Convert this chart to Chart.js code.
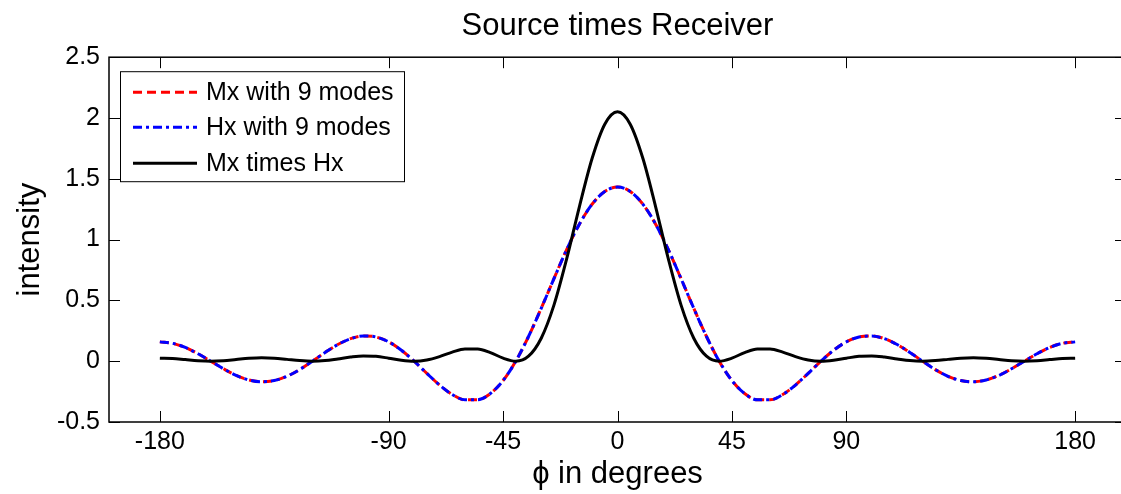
<!DOCTYPE html>
<html><head><meta charset="utf-8">
<script src="https://cdn.jsdelivr.net/npm/chart.js@4.4.1/dist/chart.umd.min.js"></script>
<style>
html,body{margin:0;padding:0;background:#fff;overflow:hidden;}
#wrap{width:1140px;height:494px;position:relative;}
</style></head><body>
<div id="wrap"><canvas id="c" width="1140" height="494"></canvas></div>
<script>
const angles = [-180,-175,-170,-165,-160,-155,-150,-145,-140,-135,-130,-125,-120,-115,-110,-105,-100,-95,-90,-85,-80,-75,-70,-65,-60,-55,-50,-45,-40,-35,-30,-25,-20,-15,-10,-5,0,
  5,10,15,20,25,30,35,40,45,50,55,60,65,70,75,80,85,90,95,100,105,110,115,120,125,130,135,140,145,150,155,160,165,170,175,180];
const mxValues = [0.159,0.147,0.113,0.061,0,-0.062,-0.117,-0.154,-0.169,-0.159,-0.124,-0.069,0,0.072,0.137,0.185,0.208,0.199,0.159,0.090,0,-0.100,-0.196,-0.274,-0.318,-0.318,-0.266,-0.159,0,0.203,0.435,0.679,0.917,1.127,1.291,1.396,1.432,
  1.396,1.291,1.127,0.917,0.679,0.435,0.203,0,-0.159,-0.266,-0.318,-0.318,-0.274,-0.196,-0.100,0,0.090,0.159,0.199,0.208,0.185,0.137,0.072,0,-0.069,-0.124,-0.159,-0.169,-0.154,-0.117,-0.062,0,0.061,0.113,0.147,0.159];
const hxValues = [0.159,0.147,0.113,0.061,0,-0.062,-0.117,-0.154,-0.169,-0.159,-0.124,-0.069,0,0.072,0.137,0.185,0.208,0.199,0.159,0.090,0,-0.100,-0.196,-0.274,-0.318,-0.318,-0.266,-0.159,0,0.203,0.435,0.679,0.917,1.127,1.291,1.396,1.432,
  1.396,1.291,1.127,0.917,0.679,0.435,0.203,0,-0.159,-0.266,-0.318,-0.318,-0.274,-0.196,-0.100,0,0.090,0.159,0.199,0.208,0.185,0.137,0.072,0,-0.069,-0.124,-0.159,-0.169,-0.154,-0.117,-0.062,0,0.061,0.113,0.147,0.159];
const productValues = [0.025,0.022,0.013,0.004,0,0.004,0.014,0.024,0.029,0.025,0.015,0.005,0,0.005,0.019,0.034,0.043,0.040,0.025,0.008,0,0.010,0.038,0.075,0.101,0.101,0.071,0.025,0,0.041,0.189,0.461,0.841,1.270,1.667,1.949,2.051,
  1.949,1.667,1.270,0.841,0.461,0.189,0.041,0,0.025,0.071,0.101,0.101,0.075,0.038,0.010,0,0.008,0.025,0.040,0.043,0.034,0.019,0.005,0,0.005,0.015,0.025,0.029,0.024,0.014,0.004,0,0.004,0.013,0.022,0.025];
const xTickValues = [-180,-90,-45,0,45,90,180];
const yTickValues = [-0.5,0,0.5,1,1.5,2,2.5];
const seriesLabels = ['Mx with 9 modes','Hx with 9 modes','Mx times Hx'];

const FAMILY = '"Liberation Sans", Arial, Helvetica, sans-serif';
const toPts = vals => angles.map((a,i)=>({x:a,y:vals[i]}));

const framePlugin = {
  id:'frame',
  afterDatasetsDraw(chart){
    const {ctx, chartArea:a, scales:{x,y}} = chart;
    ctx.save();
    ctx.strokeStyle = '#000';
    ctx.lineWidth = 1;
    ctx.setLineDash([]);
    ctx.beginPath();
    const TL = 11;
    xTickValues.forEach(v=>{
      const px = Math.round(x.getPixelForValue(v))+0.5;
      ctx.moveTo(px,a.bottom); ctx.lineTo(px,a.bottom-TL);
      ctx.moveTo(px,a.top); ctx.lineTo(px,a.top+TL);
    });
    yTickValues.forEach(v=>{
      const py = Math.round(y.getPixelForValue(v))+0.5;
      ctx.moveTo(a.left,py); ctx.lineTo(a.left+TL,py);
      ctx.moveTo(a.right,py); ctx.lineTo(a.right-TL,py);
    });
    ctx.stroke();
    ctx.lineWidth = 1.5;
    ctx.strokeRect(a.left, a.top, a.right-a.left, a.bottom-a.top);

    // legend box
    const bx = a.left+11, by = a.top+14, bw = 284, bh = 110;
    ctx.fillStyle = '#fff';
    ctx.fillRect(bx,by,bw,bh);
    ctx.lineWidth = 1;
    ctx.strokeRect(bx+0.5,by+0.5,bw,bh);
    const rows = [by+21, by+56, by+92];
    chart.data.datasets.forEach((ds,i)=>{
      const ry = rows[i];
      ctx.strokeStyle = ds.borderColor;
      ctx.lineWidth = ds.borderWidth;
      ctx.setLineDash(ds.borderDash || []);
      ctx.beginPath();
      ctx.moveTo(bx+13, ry); ctx.lineTo(bx+77, ry);
      ctx.stroke();
      ctx.setLineDash([]);
      ctx.fillStyle = '#000';
      ctx.font = '25px ' + FAMILY;
      ctx.textBaseline = 'middle';
      ctx.textAlign = 'left';
      ctx.fillText(ds.label, bx+86, ry+1);
    });
    ctx.restore();
  }
};

new Chart(document.getElementById('c'), {
  type:'line',
  data:{
    datasets:[
      {label:seriesLabels[0], data:toPts(mxValues), borderColor:'#ff0000', borderWidth:3, borderDash:[9,5], pointRadius:0, cubicInterpolationMode:'monotone', order:3, fill:false},
      {label:seriesLabels[1], data:toPts(hxValues), borderColor:'#0000ff', borderWidth:3, borderDash:[9,4,3,4], pointRadius:0, cubicInterpolationMode:'monotone', order:2, fill:false},
      {label:seriesLabels[2], data:toPts(productValues), borderColor:'#000000', borderWidth:3, pointRadius:0, cubicInterpolationMode:'monotone', order:1, fill:false}
    ]
  },
  options:{
    responsive:false,
    animation:false,
    devicePixelRatio:1,
    layout:{padding:{left:0,right:14,top:0,bottom:0}},
    plugins:{
      legend:{display:false},
      tooltip:{enabled:false},
      title:{display:true, fullSize:false, text:'Source times Receiver', color:'#000', font:{family:FAMILY, size:31, weight:'normal'}, padding:{top:8,bottom:12}}
    },
    scales:{
      x:{
        type:'linear', min:-200, max:200,
        afterBuildTicks:s=>{ s.ticks = xTickValues.map(v=>({value:v})); },
        afterFit:s=>{ s.height = 72; },
        grid:{display:false, drawTicks:false},
        border:{display:false},
        ticks:{color:'#000', font:{family:FAMILY, size:25}, padding:5, maxRotation:0, autoSkip:false, callback:v=>String(v)},
        title:{display:true, text:'ϕ in degrees', color:'#000', font:{family:FAMILY, size:31}, padding:{top:0,bottom:1}}
      },
      y:{
        type:'linear', min:-0.5, max:2.5,
        afterBuildTicks:s=>{ s.ticks = yTickValues.map(v=>({value:v})); },
        afterFit:s=>{ s.width = 109; },
        grid:{display:false, drawTicks:false},
        border:{display:false},
        ticks:{color:'#000', font:{family:FAMILY, size:25}, padding:9, autoSkip:false, callback:v=>String(v)},
        title:{display:true, text:'intensity', color:'#000', font:{family:FAMILY, size:31}, padding:{top:12,bottom:0}}
      }
    }
  },
  plugins:[framePlugin]
});
</script>
</body></html>
